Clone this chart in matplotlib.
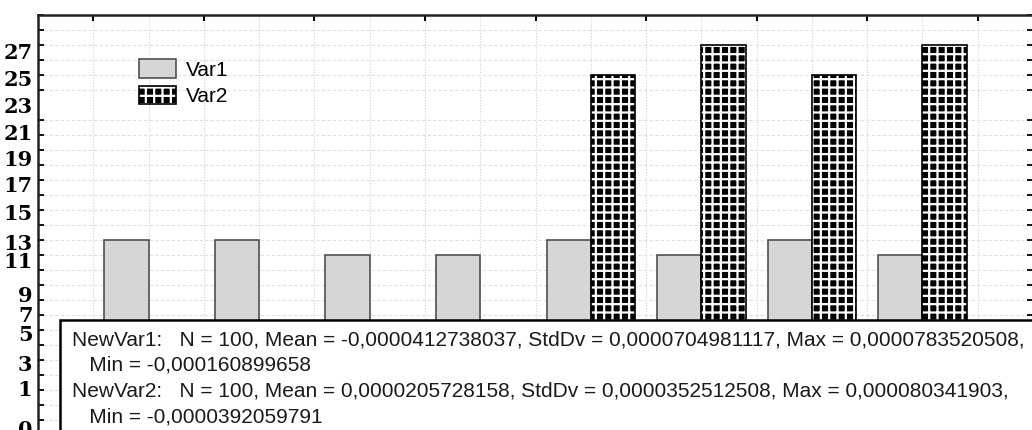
import numpy as np
import matplotlib
matplotlib.use("Agg")
import matplotlib.pyplot as plt
from matplotlib.patches import Rectangle
from matplotlib.legend_handler import HandlerTuple

# bin counts (both series sum to N = 100)
var1 = [13, 13, 12, 12, 13, 12, 13, 12]
var2 = [0, 0, 0, 0, 24, 26, 24, 26]
series_names = ["Var1", "Var2"]

# y labels as printed on the picture (they sit slightly off the tick grid)
ytick_labels = ["27", "25", "23", "21", "19", "17", "15", "13", "11", "9", "7", "5", "3", "1", "0"]
ytick_label_pos = [25.6, 23.8, 22.0, 20.2, 18.5, 16.7, 14.9, 12.9, 11.7, 9.4, 8.1, 6.8, 4.8, 3.1, 0.5]

stats_lines = [
    "NewVar1:   N = 100, Mean = -0,0000412738037, StdDv = 0,0000704981117, Max = 0,0000783520508,",
    "   Min = -0,000160899658",
    "NewVar2:   N = 100, Mean = 0,0000205728158, StdDv = 0,0000352512508, Max = 0,000080341903,",
    "   Min = -0,0000392059791",
]

plt.rcParams["font.family"] = ["Liberation Sans", "DejaVu Sans"]
plt.rcParams["hatch.linewidth"] = 1.6

W, H = 1032, 430
fig = plt.figure(figsize=(W / 100, H / 100), dpi=100)
ax = fig.add_axes([38 / W, -5 / H, 995 / W, 420 / H])

x = np.arange(len(var1))
b1 = ax.bar(x - 0.2, var1, width=0.4, color="#d6d6d6", edgecolor="#505050", linewidth=1.2, zorder=3)
# black bars with a white grid hatch, then a black outline on top
b2 = ax.bar(x + 0.2, var2, width=0.4, color="black", edgecolor="white", hatch="++", linewidth=0, zorder=3)
b2o = ax.bar(x + 0.2, var2, width=0.4, fill=False, edgecolor="black", linewidth=1.2, zorder=4)

ax.set_xlim(-1, 8)
ax.set_ylim(0, 28)

ax.set_xticks(np.arange(-0.5, 8, 1))
ax.set_xticks(np.arange(0, 8, 1), minor=True)
ax.tick_params(axis="x", which="major", direction="in", length=4, width=1.5,
               top=True, bottom=False, labelbottom=False, labeltop=False)
ax.tick_params(axis="x", which="minor", length=0)

ax.set_yticks(ytick_label_pos)
ax.set_yticklabels(ytick_labels, fontfamily="DejaVu Serif", fontweight="bold", fontsize=15)
ax.tick_params(axis="y", which="major", length=0, pad=4)
ax.set_yticks(np.arange(0, 29, 1), minor=True)
ax.tick_params(axis="y", which="minor", direction="in", length=4, width=1.3, left=True, right=True)

ax.grid(True, axis="x", which="both", color="#d0d0d0", linestyle=(0, (1, 1.5)), linewidth=0.8, zorder=0)
ax.grid(True, axis="y", which="minor", color="#e0e0e0", linestyle=(0, (3, 2)), linewidth=0.8, zorder=0)
ax.grid(False, axis="y", which="major")

for s in ax.spines.values():
    s.set_linewidth(1.8)
    s.set_color("#222222")

leg = ax.legend([b1[0], (b2[0], b2o[0])], series_names,
                handler_map={tuple: HandlerTuple(ndivide=1)},
                loc="upper left", bbox_to_anchor=(0.1015, 0.895), frameon=False,
                fontsize=15, handlelength=1.78, handleheight=1.0,
                handletextpad=0.45, labelspacing=0.3, borderpad=0, borderaxespad=0)

ax.add_patch(Rectangle((22 / 995, -0.2), 1.2, 0.2 + 115 / 420, transform=ax.transAxes,
                       facecolor="white", edgecolor="black", linewidth=1.8, zorder=6, clip_on=False))
ax.text(34 / 995, 105 / 420, "\n".join(stats_lines), transform=ax.transAxes,
        ha="left", va="top", fontsize=15, linespacing=1.45, color="#1a1a1a", zorder=7)

fig.savefig("out.png", dpi=100)
